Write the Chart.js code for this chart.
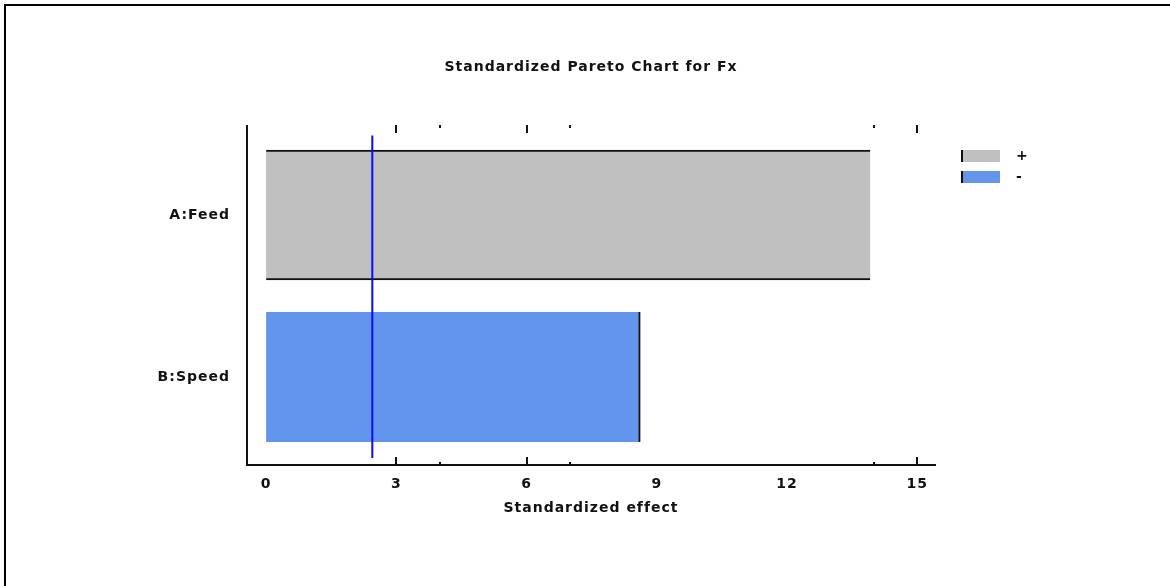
<!DOCTYPE html>
<html>
<head>
<meta charset="utf-8">
<script src="https://cdn.jsdelivr.net/npm/chart.js@4.4.0/dist/chart.umd.min.js"></script>
<style>
    body { margin: 0; background: #fff; }
    #wrap { position: relative; width: 1170px; height: 586px; overflow: hidden; }
    #frame { position: absolute; left: 4px; top: 4px; width: 1170px; height: 590px; border-top: 2px solid #000; border-left: 2px solid #000; }
    #chart { position: absolute; left: 0; top: 0; }
</style>
</head>
<body>
<div id="wrap">
    <div id="frame"></div>
    <canvas id="chart" width="1170" height="586"></canvas>
</div>
<script>
    // data
    var title = 'Standardized Pareto Chart for Fx';
    var categories = ['A:Feed', 'B:Speed'];
    var effects = [13.92, 8.62];
    var signs = ['+', '-'];
    var signColors = {'+': '#c0c0c0', '-': '#6495ed'};
    var criticalValue = 2.447;
    var xTicks = [0, 3, 6, 9, 12, 15];
    var majorMarks = [3, 6, 15];
    var minorMarks = [4, 7, 14];

    var family = '"DejaVu Sans", sans-serif';

    var datasets = signs.map(function (s) {
        return {
            label: s,
            data: categories.map(function (c, i) {
                return {x: effects[i], y: i};
            }).filter(function (p, i) {
                return signs[i] === s;
            }),
            backgroundColor: signColors[s],
            borderColor: '#111',
            borderWidth: s === '+' ? {top: 2, bottom: 2, left: 0, right: 0} : {top: 0, bottom: 0, left: 0, right: 2},
            borderSkipped: false,
            barThickness: 130,
            grouped: false
        };
    });

    //wider lettering like the original
    var spacing = {
        id: 'spacing',
        beforeLayout: function (chart) { chart.ctx.letterSpacing = '1px'; },
        beforeDraw: function (chart) { chart.ctx.letterSpacing = '1px'; }
    };

    var extras = {
        id: 'extras',
        afterDraw: function (chart) {
            var ctx = chart.ctx;
            var xs = chart.scales.x, ys = chart.scales.y;
            var top = chart.chartArea.top, bottom = chart.chartArea.bottom;

            ctx.save();
            // title
            ctx.font = 'bold 14px ' + family;
            ctx.fillStyle = '#111';
            ctx.textAlign = 'center';
            ctx.textBaseline = 'middle';
            ctx.fillText(title, 591, 67);

            // critical value line
            ctx.strokeStyle = '#0a0aff';
            ctx.lineWidth = 2;
            ctx.beginPath();
            ctx.moveTo(xs.getPixelForValue(criticalValue), ys.getPixelForValue(-0.49));
            ctx.lineTo(xs.getPixelForValue(criticalValue), ys.getPixelForValue(1.5));
            ctx.stroke();

            // tick marks, top and bottom
            ctx.strokeStyle = '#111';
            ctx.lineWidth = 2;
            majorMarks.forEach(function (v) {
                var px = Math.round(xs.getPixelForValue(v));
                ctx.beginPath();
                ctx.moveTo(px, top - 1); ctx.lineTo(px, top + 7);
                ctx.moveTo(px, bottom); ctx.lineTo(px, bottom - 8);
                ctx.stroke();
            });
            minorMarks.forEach(function (v) {
                var px = Math.round(xs.getPixelForValue(v));
                ctx.beginPath();
                ctx.moveTo(px, top - 1); ctx.lineTo(px, top + 2);
                ctx.moveTo(px, bottom); ctx.lineTo(px, bottom - 3);
                ctx.stroke();
            });

            // legend
            ctx.textAlign = 'left';
            chart.data.datasets.forEach(function (ds, i) {
                var y = 150 + i * 21;
                ctx.fillStyle = ds.backgroundColor;
                ctx.fillRect(961, y, 39, 12);
                ctx.fillStyle = '#111';
                ctx.fillRect(961, y, 2, 12);
                ctx.fillText(ds.label, 1016, y + 6);
            });
            ctx.restore();
        }
    };

    new Chart(document.getElementById('chart'), {
        type: 'bar',
        data: {datasets: datasets},
        plugins: [spacing, extras],
        options: {
            responsive: false,
            animation: false,
            indexAxis: 'y',
            layout: {padding: {left: 0, right: 235, top: 126, bottom: 69}},
            plugins: {
                legend: {display: false},
                tooltip: {enabled: false}
            },
            scales: {
                x: {
                    type: 'linear',
                    min: -0.44,
                    max: 15.41,
                    afterFit: function (s) { s.height = 52; },
                    afterBuildTicks: function (s) {
                        s.ticks = xTicks.map(function (v) { return {value: v}; });
                    },
                    grid: {display: false},
                    border: {display: true, color: '#111', width: 2},
                    ticks: {
                        color: '#111',
                        padding: 3,
                        font: {family: family, size: 14, weight: 'bold'}
                    },
                    title: {
                        display: true,
                        text: 'Standardized effect',
                        color: '#111',
                        padding: {top: 0, bottom: 0},
                        font: {family: family, size: 14, weight: 'bold'}
                    }
                },
                y: {
                    type: 'linear',
                    reverse: true,
                    offset: false,
                    min: -0.549,
                    max: 1.543,
                    afterFit: function (s) { s.width = 247; },
                    afterBuildTicks: function (s) {
                        s.ticks = categories.map(function (c, i) { return {value: i}; });
                    },
                    grid: {display: false},
                    border: {display: true, color: '#111', width: 2},
                    ticks: {
                        color: '#111',
                        padding: 9,
                        font: {family: family, size: 14, weight: 'bold'},
                        callback: function (v) { return categories[v]; }
                    }
                }
            }
        }
    });
</script>
</body>
</html>
